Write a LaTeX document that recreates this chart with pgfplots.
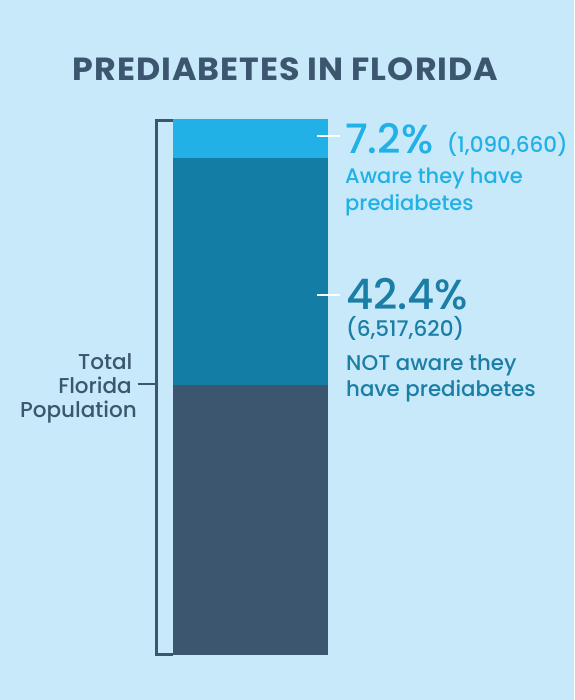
\documentclass[border=0pt]{standalone}
\usepackage{pgfplots}
\pgfplotsset{compat=1.18}
\usepackage{fontspec}
\setmainfont{Poppins}
\newfontfamily\pmed{Poppins Medium}
\newfontfamily\ptitle{Poppins}[LetterSpace=3]
\definecolor{bg}{HTML}{C8E9F9}
\definecolor{slate}{HTML}{3B566E}
\definecolor{barteal}{HTML}{147DA6}
\definecolor{sky}{HTML}{21B1E6}
\definecolor{tealtext}{HTML}{1A7EA6}
\begin{document}
\begin{tikzpicture}[x=1pt,y=1pt]
\fill[bg] (0pt,0pt) rectangle (574pt,-700pt);
\begin{axis}[at={(0pt,-655pt)}, anchor=south west, scale only axis,
  width=574pt, height=536pt, xmin=0, xmax=574, ymin=0, ymax=100,
  hide axis, ybar stacked, bar width=155, clip=false]
\addplot[fill=slate, draw=none] coordinates {(250.5,50.4)};
\addplot[fill=barteal, draw=none] coordinates {(250.5,42.4)};
\addplot[fill=sky, draw=none] coordinates {(250.5,7.2)};
\end{axis}
% bracket
\draw[slate, line width=2.6pt] (173pt,-120.3pt) -- (156.3pt,-120.3pt) -- (156.3pt,-654.5pt) -- (173pt,-654.5pt);
\draw[slate, line width=2pt] (137.5pt,-384pt) -- (156pt,-384pt);
% white ticks
\draw[white, line width=2pt] (317pt,-136pt) -- (340pt,-136pt);
\draw[white, line width=2pt] (317pt,-295pt) -- (340pt,-295pt);
% title
\node[anchor=base, inner sep=0, text=slate, font=\ptitle\bfseries\fontsize{32}{32}\selectfont] at (285.5pt,-80.7pt) {\scalebox{1.04}[1]{PREDIABETES IN FLORIDA}};
% top label
\node[anchor=base west, inner sep=0, text=sky, font=\pmed\fontsize{40.5}{40}\selectfont] at (345pt,-153.3pt) {7.2\%};
\node[anchor=base east, inner sep=0, text=sky, font=\pmed\fontsize{21.5}{20}\selectfont] at (568pt,-153pt) {(1,090,660)};
\node[anchor=base west, inner sep=0, text=sky, font=\pmed\fontsize{21}{22}\selectfont] at (345pt,-184pt) {Aware they have};
\node[anchor=base west, inner sep=0, text=sky, font=\pmed\fontsize{21}{22}\selectfont] at (345pt,-210.5pt) {prediabetes};
% middle label
\node[anchor=base west, inner sep=0, text=tealtext, font=\pmed\fontsize{42}{41}\selectfont] at (346pt,-309.3pt) {42.4\%};
\node[anchor=base west, inner sep=0, text=tealtext, font=\pmed\fontsize{21.5}{22}\selectfont] at (346pt,-336pt) {(6,517,620)};
\node[anchor=base west, inner sep=0, text=tealtext, font=\pmed\fontsize{21.3}{22}\selectfont] at (346pt,-370pt) {NOT aware they};
\node[anchor=base west, inner sep=0, text=tealtext, font=\pmed\fontsize{21.3}{22}\selectfont] at (346pt,-396.7pt) {have prediabetes};
% left label
\node[anchor=base east, inner sep=0, text=slate, font=\pmed\fontsize{21.5}{22}\selectfont] at (132.5pt,-369.3pt) {Total};
\node[anchor=base east, inner sep=0, text=slate, font=\pmed\fontsize{21.5}{22}\selectfont] at (132pt,-393.3pt) {Florida};
\node[anchor=base east, inner sep=0, text=slate, font=\pmed\fontsize{21.5}{22}\selectfont] at (137pt,-417.3pt) {Population};
\end{tikzpicture}
\end{document}
